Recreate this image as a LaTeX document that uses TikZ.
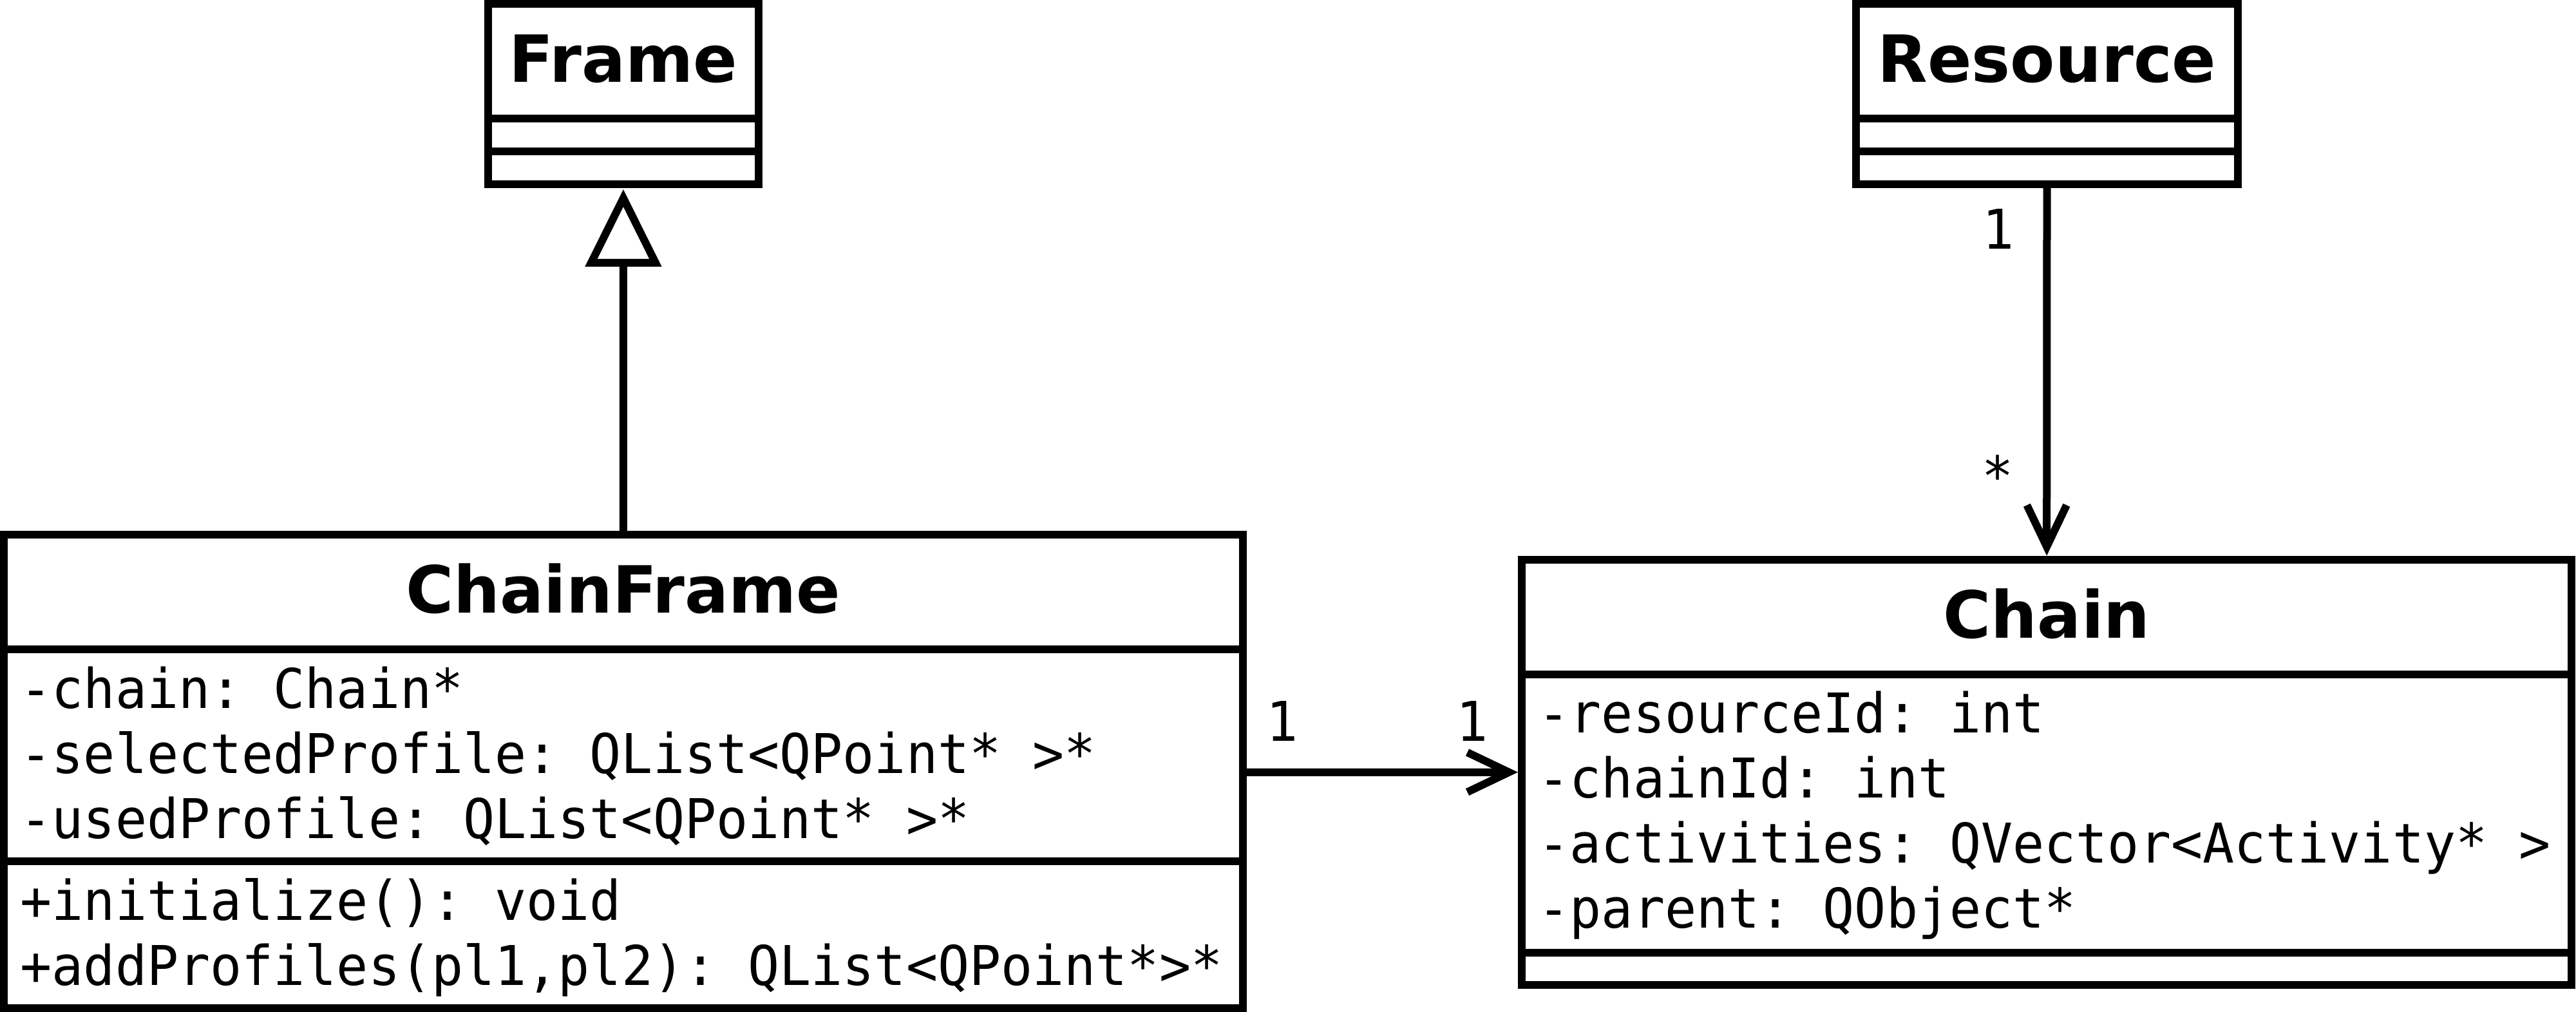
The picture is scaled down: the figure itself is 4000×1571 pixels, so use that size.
\documentclass[tikz,border=0pt]{standalone}
\usepackage{fontspec}
\newfontfamily\titlefont{DejaVu Sans}
\newfontfamily\attrfont[FakeStretch=0.96]{DejaVu Sans Mono}
\begin{document}
\frenchspacing
\begin{tikzpicture}[x=0.25pt,y=-0.25pt,line width=3pt,
  box/.style={draw, rectangle, inner sep=0pt, outer sep=0pt},
  title/.style={font=\titlefont\bfseries\fontsize{25.25pt}{30pt}\selectfont, inner sep=0pt, anchor=base},
  attr/.style={font=\attrfont\fontsize{21.25pt}{25pt}\selectfont\frenchspacing, inner sep=0pt, anchor=base west},
  mult/.style={font=\attrfont\fontsize{21.25pt}{25pt}\selectfont, inner sep=0pt, anchor=base},
  conn/.style={line cap=butt, line join=miter}]
\useasboundingbox (0,0) rectangle (4000,1571);

% ---- class boxes ----
\node[box, minimum width=105.2pt, minimum height=69.95pt] (frame) at (967.9,145.9) {};
\node[box, minimum width=148.25pt, minimum height=69.95pt] (resource) at (3178.5,145.9) {};
\node[box, minimum width=480.925pt, minimum height=183.75pt] (cf) at (967.85,1197.5) {};
\node[box, minimum width=407.575pt, minimum height=165.15pt] (chain) at (3178.15,1199) {};

% ---- dividers ----
\draw (frame.west |- 0,184.5) -- (frame.east |- 0,184.5);
\draw (frame.west |- 0,235) -- (frame.east |- 0,235);
\draw (resource.west |- 0,184.5) -- (resource.east |- 0,184.5);
\draw (resource.west |- 0,235) -- (resource.east |- 0,235);
\draw (cf.west |- 0,1008) -- (cf.east |- 0,1008);
\draw (cf.west |- 0,1337) -- (cf.east |- 0,1337);
\draw (chain.west |- 0,1046.7) -- (chain.east |- 0,1046.7);
\draw (chain.west |- 0,1479) -- (chain.east |- 0,1479);

% ---- titles ----
\node[title] (framet) at (967.9,127.7) {Frame};
\node[title] (resourcet) at (3178.5,127.7) {Resource};
\node[title] (cft) at (967.85,951.7) {ChainFrame};
\node[title] (chaint) at (3178.15,990.4) {Chain};

% ---- ChainFrame members ----
\node[attr] (cfa1) at (25.7,1099) {-chain: Chain*};
\node[attr] (cfa2) at (25.7,1200) {-selectedProfile: QList<QPoint* >*};
\node[attr] (cfa3) at (25.7,1301) {-usedProfile: QList<QPoint* >*};
\node[attr] (cfm1) at (25.7,1428) {+initialize(): void};
\node[attr] (cfm2) at (25.7,1529) {+addProfiles(pl1,pl2): QList<QPoint*>*};

% ---- Chain members ----
\node[attr] (cha1) at (2382.7,1137.7) {-resourceId: int};
\node[attr] (cha2) at (2382.7,1238.7) {-chainId: int};
\node[attr] (cha3) at (2382.7,1339.7) {-activities: QVector<Activity* >};
\node[attr] (cha4) at (2382.7,1440.7) {-parent: QObject*};

% ---- generalization ChainFrame -> Frame ----
\draw[conn] (cf.north) -- ([shift={(0,122.2)}]frame.south);
\draw[conn] ([shift={(0,21.8)}]frame.south) -- ([shift={(50,122.2)}]frame.south)
  -- ([shift={(-50,122.2)}]frame.south) -- cycle;

% ---- association Resource -> Chain ----
\draw[conn] (resource.south) -- ([shift={(0,-20)}]chain.north);
\draw[conn] ([shift={(-30.8,-84.5)}]chain.north) -- ([shift={(0,-20)}]chain.north)
  -- ([shift={(30.8,-84.5)}]chain.north);

% ---- association ChainFrame -> Chain ----
\draw[conn] (cf.east |- 0,1198.8) -- ([shift={(-20,-0.2)}]chain.west);
\draw[conn] ([shift={(-84.5,-31)}]chain.west) -- ([shift={(-20,-0.2)}]chain.west)
  -- ([shift={(-84.5,30.6)}]chain.west);

% ---- multiplicities ----
\node[mult] (m1) at (3103,387) {1};
\node[mult] (m2) at (3102,770) {*};
\node[mult] (m3) at (1991,1150) {1};
\node[mult] (m4) at (2286,1150) {1};
\end{tikzpicture}
\end{document}
